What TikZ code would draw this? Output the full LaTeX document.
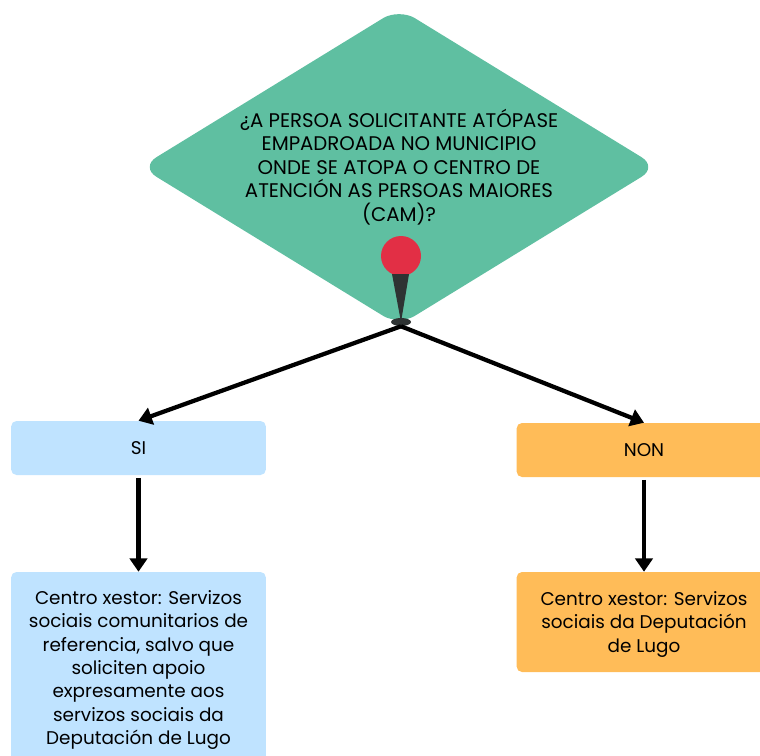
\documentclass[tikz,border=0pt]{standalone}
\usepackage{fontspec}
\setmainfont{Poppins}
\usetikzlibrary{arrows.meta,positioning,shapes.geometric}
\definecolor{greenfill}{HTML}{5FBFA1}
\definecolor{bluefill}{HTML}{BFE3FF}
\definecolor{orangefill}{HTML}{FFBC58}
\definecolor{pinred}{HTML}{E22F45}
\definecolor{pindark}{HTML}{2E3333}
\tikzset{
 question/.style={diamond, fill=greenfill, rounded corners=14pt, inner sep=0pt, aspect=1.625,
  minimum width=388pt, minimum height=238pt, align=center, font=\fontsize{14.8pt}{17.6pt}\selectfont},
 answer/.style={rectangle, rounded corners=4pt, minimum width=191pt, inner sep=0pt, align=center,
  font=\fontsize{13.8pt}{17.6pt}\selectfont},
 link/.style={line width=3.2pt, -{Triangle[length=10pt,width=13pt]}}
}
\begin{document}
\begin{tikzpicture}[x=0.75pt, y=-0.75pt]
\useasboundingbox (0,0) rectangle (760,756);
\node [question] (q) at (399,167) {\rule{0pt}{13pt}¿A PERSOA SOLICITANTE ATÓPASE\\EMPADROADA NO MUNICIPIO\\ONDE SE ATOPA O CENTRO DE\\ATENCIÓN AS PERSOAS MAIORES\\(CAM)?};
% pin
\node [circle, fill=pinred, minimum size=30pt, inner sep=0pt] (head) at (401,256) {};
\node [ellipse, fill=pindark, minimum width=15pt, minimum height=6pt, inner sep=0pt] (base) at (401,322) {};
\fill [pindark] (392,274) -- (409,274) -- (base.center) -- cycle;
% boxes
\node [answer, fill=bluefill, minimum height=40.5pt] (si) at (138.5,448) {SI};
\node [answer, fill=orangefill, minimum height=40.5pt] (non) at (644,450) {NON};
\node [answer, fill=bluefill, minimum height=147pt] (si_c) at (138.5,670) {Centro xestor: Servizos\\sociais comunitarios de\\referencia, salvo que\\soliciten apoio\\expresamente aos\\servizos sociais da\\Deputación de Lugo};
\node [answer, fill=orangefill, minimum height=75pt] (non_c) at (644,622) {\rule{0pt}{14pt}Centro xestor: Servizos\\sociais da Deputación\\de Lugo};
% arrows
\draw [link] (base.south) -- (si.north);
\draw [link] (base.south) -- (non.north);
\draw [link, shorten <=2pt] (si.south) -- (si_c.north);
\draw [link, shorten <=2pt] (non.south) -- (non_c.north);
\end{tikzpicture}
\end{document}
